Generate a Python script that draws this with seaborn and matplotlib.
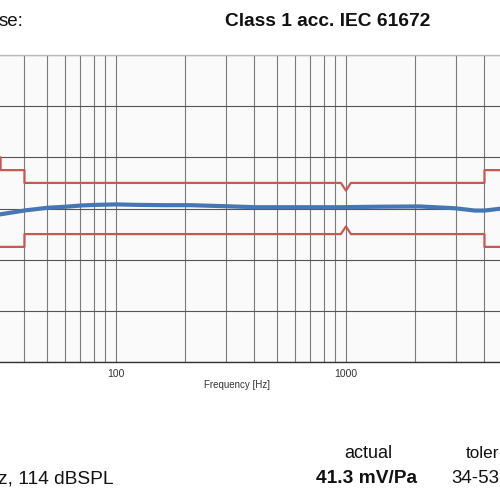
import matplotlib
matplotlib.use("Agg")
import matplotlib.pyplot as plt
import matplotlib.ticker as mticker
import seaborn as sns
import pandas as pd

# ---- data ----
resp_freq = [31.3, 40.6, 50.6, 60.6, 71.2, 81.0, 100, 127, 163, 210, 298, 401,
             630, 942, 1405, 2089, 2974, 3633, 4010, 4662]
resp_db = [-0.23, -0.07, 0.03, 0.07, 0.12, 0.14, 0.16, 0.14, 0.13, 0.13, 0.09, 0.05,
           0.05, 0.05, 0.07, 0.08, 0.01, -0.08, -0.08, -0.01]

tol_freq = [20, 31.5, 31.5, 40, 40, 950, 1000, 1050, 4000, 4000, 8000]
tol_upper = [2.0, 2.0, 1.5, 1.5, 1.0, 1.0, 0.7, 1.0, 1.0, 1.5, 1.5]
tol_lower = [-1.5, -1.5, -1.5, -1.5, -1.0, -1.0, -0.7, -1.0, -1.0, -1.5, -1.5]

x_ticks = [100, 1000]
x_tick_labels = ["100", "1000"]

resp = pd.DataFrame({"f": resp_freq, "db": resp_db})
tol = pd.DataFrame({"f": tol_freq, "up": tol_upper, "lo": tol_lower})

sns.set_style("white")
plt.rcParams["font.family"] = ["Liberation Sans", "DejaVu Sans"]

fig = plt.figure(figsize=(5, 5), dpi=100)
ax = fig.add_axes([-0.1, 0.276, 1.2, 0.614])
ax.set_facecolor("#fafafa")

ax.set_xscale("log")
ax.set_xlim(18.98, 7709)
ax.set_ylim(-6, 6)

sns.lineplot(data=tol, x="f", y="up", ax=ax, color="#c55a55", lw=1.6,
             sort=False, estimator=None)
sns.lineplot(data=tol, x="f", y="lo", ax=ax, color="#c55a55", lw=1.6,
             sort=False, estimator=None)
sns.lineplot(data=resp, x="f", y="db", ax=ax, color="#4677b3", lw=3.0,
             estimator=None)

ax.xaxis.set_major_locator(mticker.FixedLocator(x_ticks))
ax.xaxis.set_major_formatter(mticker.FixedFormatter(x_tick_labels))
ax.xaxis.set_minor_locator(mticker.LogLocator(base=10, subs=range(2, 10)))
ax.xaxis.set_minor_formatter(mticker.NullFormatter())
ax.set_yticks([-6, -4, -2, 0, 2, 4, 6])
ax.set_yticklabels([])
ax.tick_params(axis="x", which="major", length=3, width=0.8, color="#333333",
               labelsize=7.5, pad=2, labelcolor="#333333")
ax.tick_params(axis="x", which="minor", length=0)
ax.tick_params(axis="y", length=0)

ax.grid(True, axis="x", which="both", color="#7a7a7a", lw=0.8)
ax.grid(True, axis="y", which="major", color="#555555", lw=0.8)

for s in ["left", "right"]:
    ax.spines[s].set_visible(False)
ax.spines["top"].set_color("#bbbbbb")
ax.spines["top"].set_linewidth(1.0)
ax.spines["bottom"].set_color("#333333")
ax.spines["bottom"].set_linewidth(1.0)

ax.set_xlabel("Frequency [Hz]", fontsize=7, color="#333333", labelpad=4)
ax.set_ylabel("")
ax.xaxis.set_label_coords((237.5 + 50) / 600, -0.06)

# ---- surrounding text ----
fig.text(-0.003, 0.958, "se:", fontsize=13.5, ha="left", va="center", color="#111111")
fig.text(0.656, 0.958, "Class 1 acc. IEC 61672", fontsize=13.8, fontweight="bold",
         ha="center", va="center", color="#111111")
fig.text(0.737, 0.093, "actual", fontsize=13, ha="center", va="center", color="#111111")
fig.text(0.932, 0.093, "toler", fontsize=12.3, ha="left", va="center", color="#111111")
fig.text(-0.003, 0.043, "z, 114 dBSPL", fontsize=13.8, ha="left", va="center", color="#111111")
fig.text(0.733, 0.043, "41.3 mV/Pa", fontsize=13.8, fontweight="bold", ha="center",
         va="center", color="#111111")
fig.text(0.902, 0.043, "34-53", fontsize=13.5, ha="left", va="center", color="#111111")

fig.savefig("out.png", dpi=100)
